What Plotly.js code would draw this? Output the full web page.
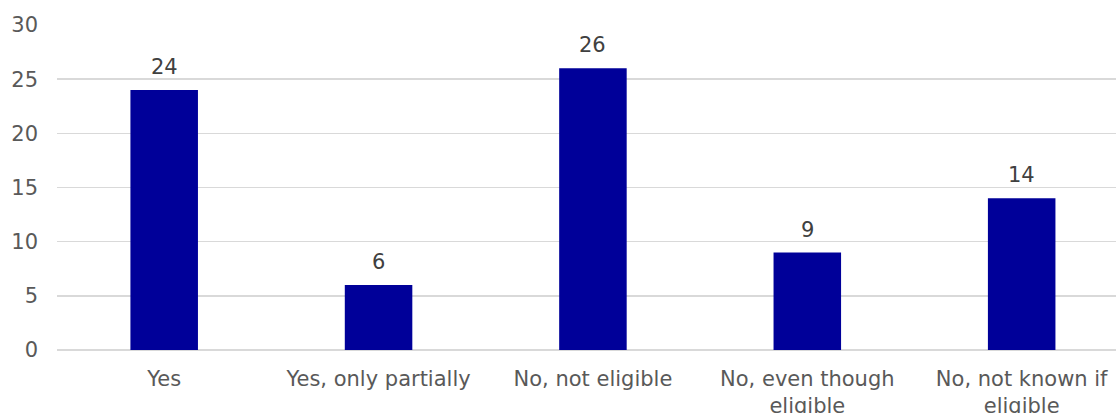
<!DOCTYPE html>
<html>
<head>
<meta charset="utf-8">
<script src="https://cdn.plot.ly/plotly-3.0.1.min.js"></script>
<style>html,body{margin:0;padding:0;background:#fff;}#chart{width:1116px;height:413px;}</style>
</head>
<body>
<div id="chart"></div>
<script>
var categories = ["Yes", "Yes, only partially", "No, not eligible", "No, even though<br>eligible", "No, not known if<br>eligible"];
var values = [24, 6, 26, 9, 14];
var yTicks = [0, 5, 10, 15, 20, 25, 30];

var FONT = 'DejaVu Sans, Verdana, sans-serif';

var trace = {
  type: 'bar',
  x: categories,
  y: values,
  marker: {color: '#000099'},
  width: 0.315,
  hoverinfo: 'none'
};

var annotations = categories.map(function (c, i) {
  return {
    x: c, y: values[i], xref: 'x', yref: 'y',
    text: String(values[i]), showarrow: false,
    yanchor: 'bottom', yshift: 9,
    font: {family: FONT, size: 21, color: '#404040'}
  };
});

var layout = {
  width: 1116, height: 413,
  margin: {l: 57, r: 0, t: 25, b: 63},
  paper_bgcolor: '#fff', plot_bgcolor: '#fff',
  showlegend: false,
  font: {family: FONT, size: 21, color: '#595959'},
  xaxis: {
    type: 'category',
    range: [-0.5, 4.44],
    showgrid: false, zeroline: false, showline: false,
    ticks: '', ticklabelstandoff: 14,
    tickfont: {family: FONT, size: 21, color: '#595959'}
  },
  yaxis: {
    range: [0, 30],
    tickvals: yTicks,
    showgrid: true, gridcolor: '#d9d9d9', gridwidth: 1.5,
    zeroline: true, zerolinecolor: '#d9d9d9', zerolinewidth: 1.5,
    showline: false, ticks: '',
    ticklabelstandoff: 18,
    tickfont: {family: FONT, size: 21, color: '#595959'}
  },
  annotations: annotations
};

Plotly.newPlot('chart', [trace], layout, {staticPlot: true, displayModeBar: false});
</script>
</body>
</html>
